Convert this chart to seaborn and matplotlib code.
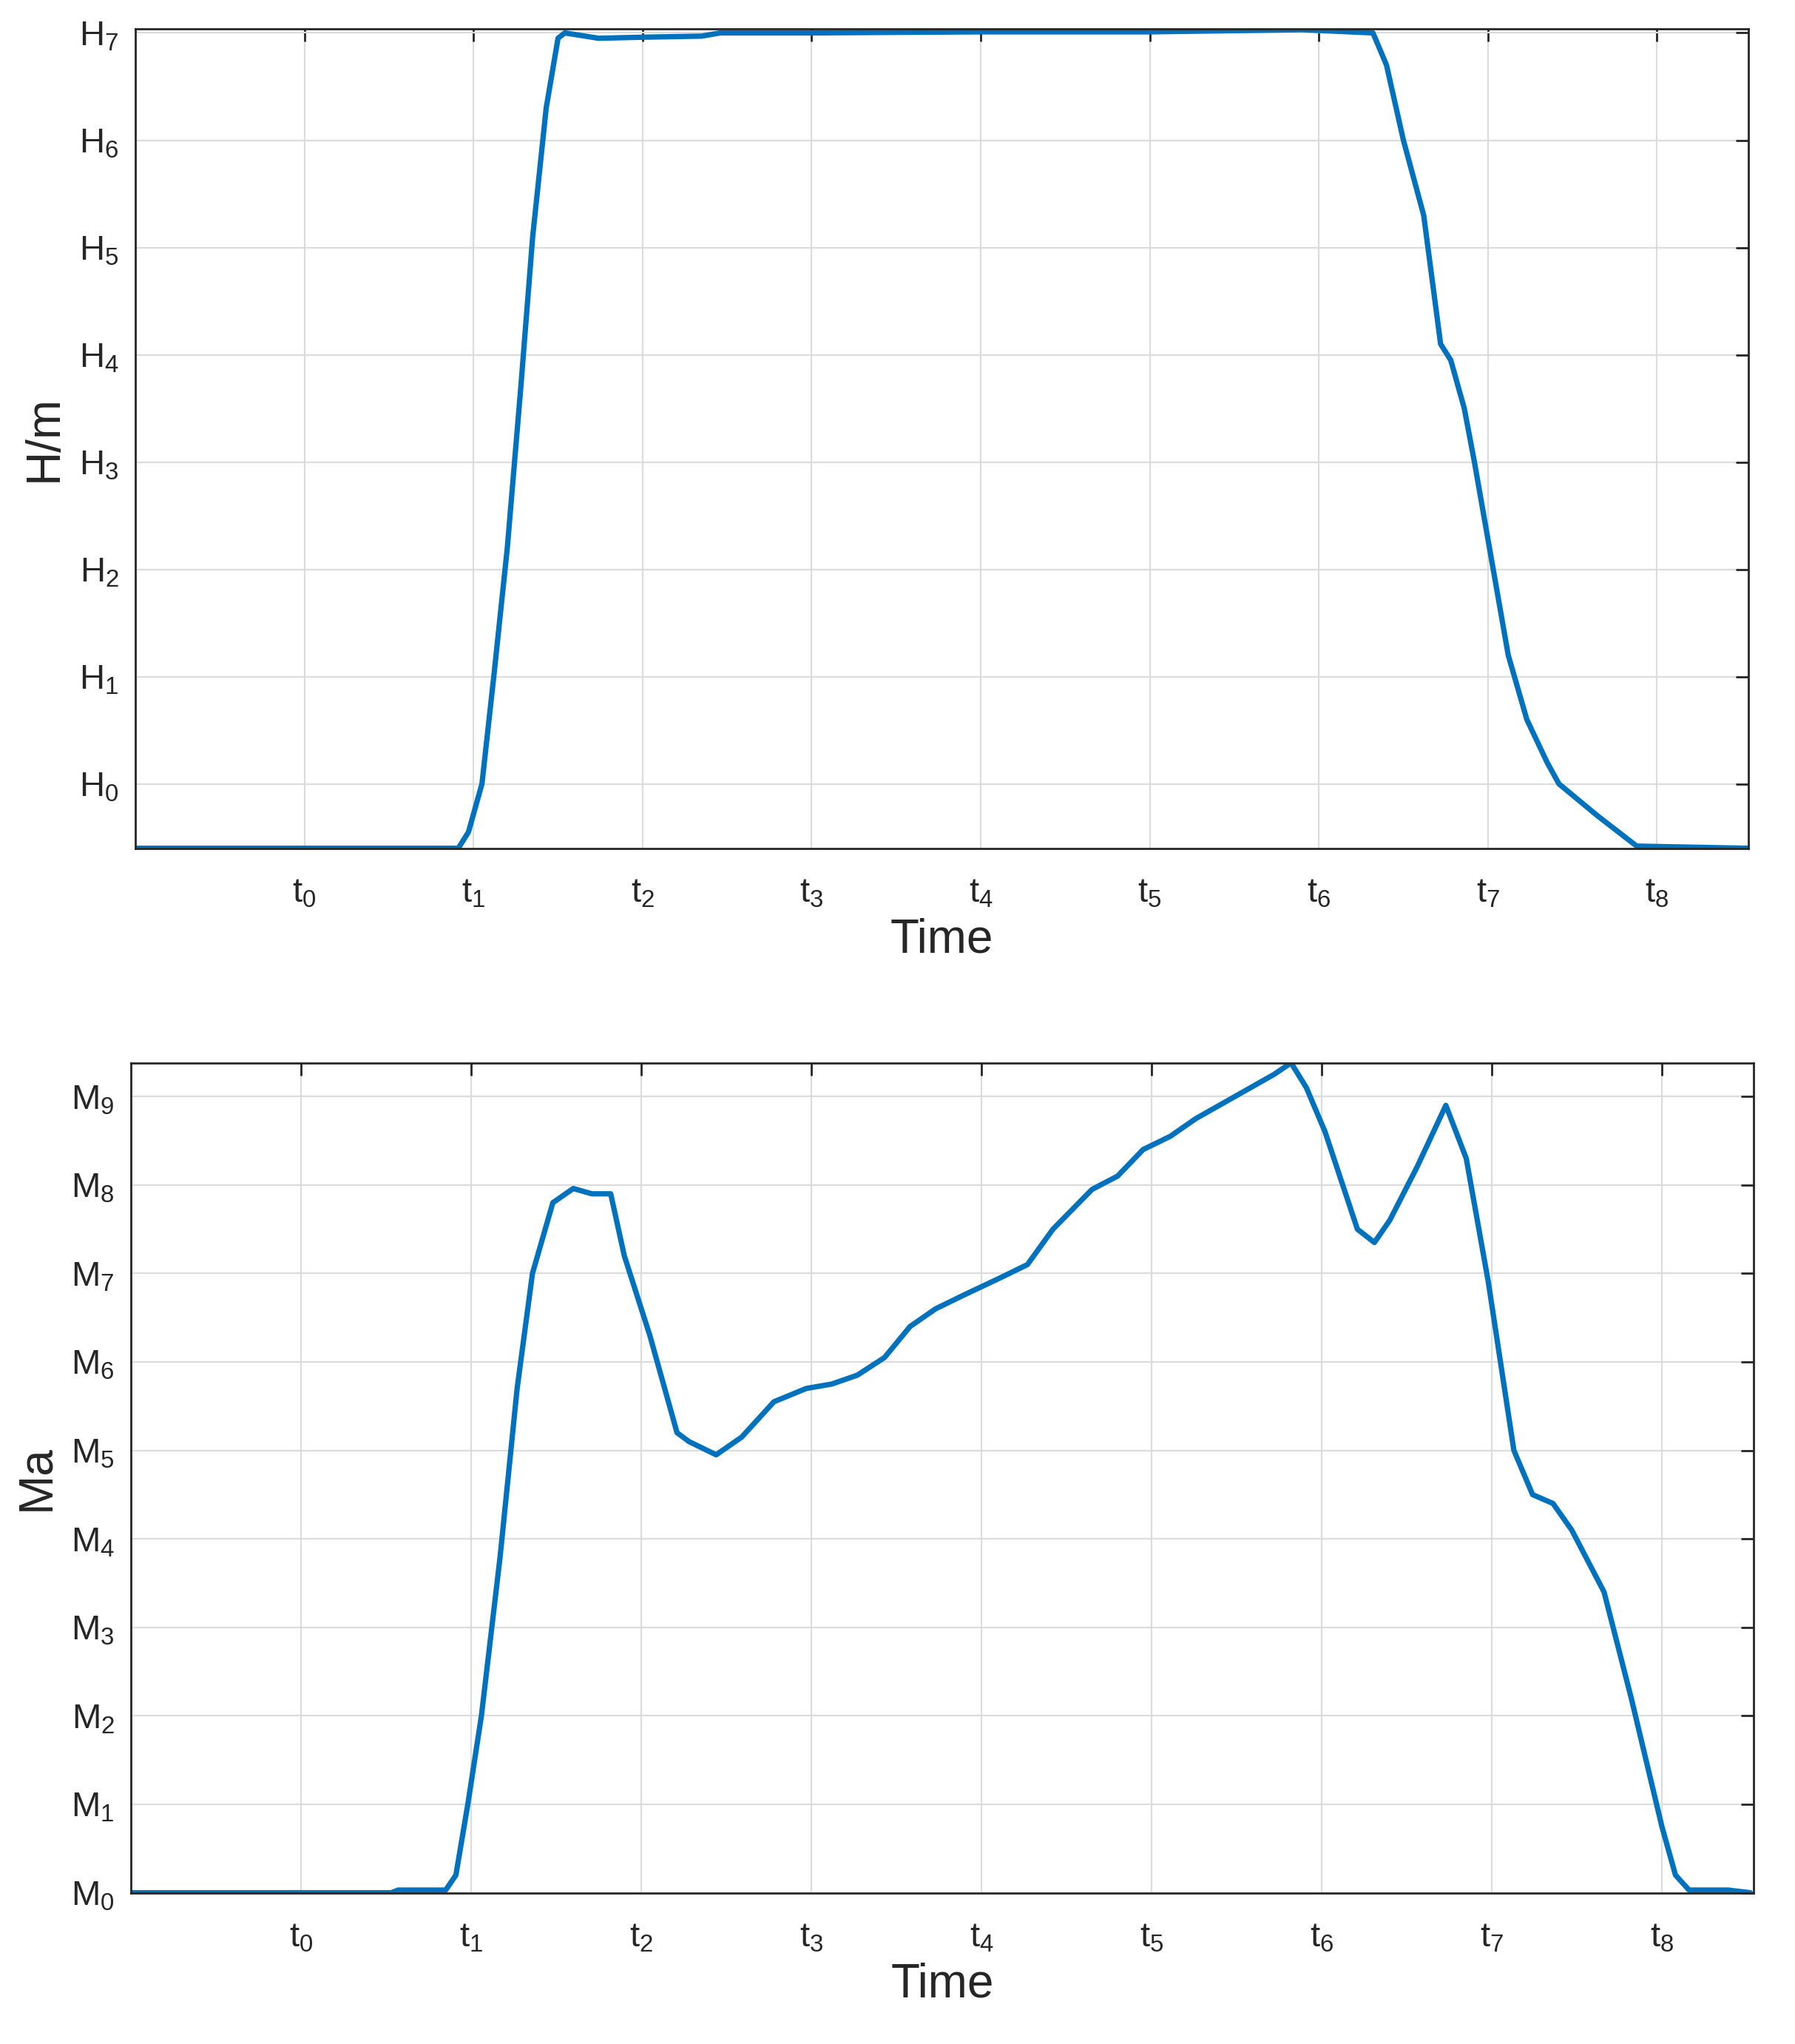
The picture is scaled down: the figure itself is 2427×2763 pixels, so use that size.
import numpy as np
import matplotlib
matplotlib.use("Agg")
import matplotlib.pyplot as plt
import seaborn as sns

sns.set_style("whitegrid")
plt.rcParams['font.family'] = ['Liberation Sans', 'DejaVu Sans']
plt.rcParams['mathtext.fontset'] = 'custom'
plt.rcParams['mathtext.rm'] = 'Liberation Sans'

# top panel: H/m vs time (tick units, t_k at k)
h_time = [-1.0, 0.0, 0.91, 0.97, 1.05, 1.12, 1.2, 1.28, 1.35, 1.43, 1.5, 1.54, 1.74, 2.0,
          2.35, 2.46, 3.0, 4.0, 5.0, 5.9, 6.32, 6.4, 6.5, 6.62, 6.72, 6.78, 6.86, 6.92,
          7.02, 7.12, 7.23, 7.35, 7.42, 7.65, 7.88, 8.54]
h_vals = [-0.6, -0.6, -0.6, -0.45, 0.0, 1.0, 2.2, 3.7, 5.1, 6.3, 6.95, 7.0, 6.95, 6.96,
          6.97, 7.0, 7.0, 7.01, 7.01, 7.03, 7.0, 6.7, 6.0, 5.3, 4.1, 3.95, 3.5, 3.0,
          2.1, 1.2, 0.6, 0.2, 0.0, -0.3, -0.58, -0.6]

# bottom panel: Ma vs time
m_time = [-0.99, 0.53, 0.57, 0.85, 0.91, 0.98, 1.06, 1.17, 1.27, 1.36, 1.48, 1.6, 1.71,
          1.82, 1.9, 2.05, 2.21, 2.28, 2.44, 2.59, 2.78, 2.97, 3.12, 3.27, 3.43, 3.58,
          3.73, 3.89, 4.11, 4.27, 4.42, 4.65, 4.8, 4.95, 5.11, 5.26, 5.49, 5.72, 5.82,
          5.91, 6.02, 6.21, 6.31, 6.4, 6.56, 6.73, 6.85, 6.98, 7.13, 7.24, 7.36, 7.47,
          7.66, 7.82, 8.0, 8.08, 8.16, 8.39, 8.52]
m_vals = [0.0, 0.0, 0.03, 0.03, 0.2, 1.0, 2.0, 3.8, 5.7, 7.0, 7.8, 7.96, 7.9, 7.9, 7.2,
          6.3, 5.2, 5.1, 4.95, 5.15, 5.55, 5.7, 5.75, 5.85, 6.05, 6.4, 6.6, 6.75, 6.95,
          7.1, 7.5, 7.95, 8.1, 8.4, 8.55, 8.75, 9.0, 9.25, 9.38, 9.1, 8.6, 7.5, 7.35,
          7.6, 8.2, 8.9, 8.3, 6.9, 5.0, 4.5, 4.4, 4.1, 3.4, 2.2, 0.75, 0.2, 0.03, 0.03, 0.0]

x_ticks = list(range(9))
x_labels = [f'$\\mathrm{{t}}_{{{k}}}$' for k in x_ticks]
h_ticks = list(range(8))
h_labels = [f'$\\mathrm{{H}}_{{{k}}}$' for k in h_ticks]
m_ticks = list(range(10))
m_labels = [f'$\\mathrm{{M}}_{{{k}}}$' for k in m_ticks]

blue = '#0072BD'
fig = plt.figure(figsize=(12.135, 13.815), dpi=200)
ax1 = fig.add_axes([0.0754, 0.585, 0.8986, 0.401])
ax2 = fig.add_axes([0.073, 0.074, 0.904, 0.406])

panels = [
    (ax1, h_time, h_vals, h_ticks, h_labels, (-0.6, 7.04), 'H/m'),
    (ax2, m_time, m_vals, m_ticks, m_labels, (0, 9.38), 'Ma'),
]
for ax, xs, ys, yt, yl, ylim, ylab in panels:
    sns.lineplot(x=xs, y=ys, ax=ax, color=blue, linewidth=2.6,
                 solid_joinstyle='round', solid_capstyle='round')
    ax.set_xlim(-1.0, 8.54)
    ax.set_ylim(*ylim)
    ax.set_xticks(x_ticks)
    ax.set_xticklabels(x_labels)
    ax.set_yticks(yt)
    ax.set_yticklabels(yl)
    ax.grid(True, color='#dcdcdc', linewidth=0.8)
    ax.set_facecolor('white')
    for s in ax.spines.values():
        s.set_color('#262626')
        s.set_linewidth(1.0)
    ax.tick_params(direction='in', top=True, right=True, length=6, width=1,
                   color='#262626', labelsize=17, labelcolor='#262626', pad=8)
    ax.tick_params(axis='x', pad=14)
    ax.set_xlabel('Time', fontsize=23, color='#262626', labelpad=4)
    ax.set_ylabel(ylab, fontsize=23, color='#262626', labelpad=6)

fig.savefig('out.png', dpi=200)
